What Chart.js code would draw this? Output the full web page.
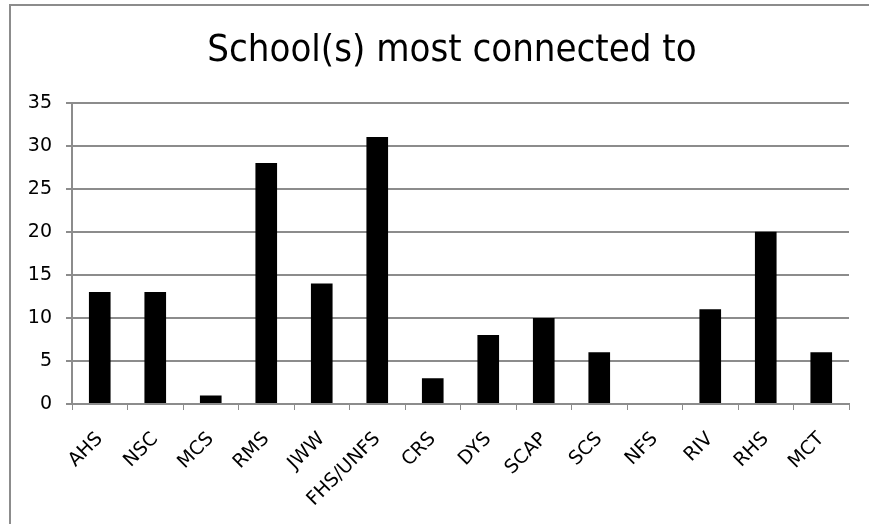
<!DOCTYPE html>
<html>
<head>
<meta charset="utf-8">
<script src="https://cdn.jsdelivr.net/npm/chart.js@4/dist/chart.umd.min.js"></script>
<style>
  body { margin: 0; background: #fff; overflow: hidden; }
  #frame { position: absolute; left: 9px; top: 4px; width: 880px; height: 540px; border: 2px solid #8c8c8c; box-sizing: border-box; }
  #wrap { position: absolute; left: 0; top: 0; width: 869px; height: 524px; }
</style>
</head>
<body>
<div id="frame"></div>
<div id="wrap"><canvas id="school-chart"></canvas></div>
<script>
// Chart data
var schools = ["AHS", "NSC", "MCS", "RMS", "JWW", "FHS/UNFS", "CRS", "DYS", "SCAP", "SCS", "NFS", "RIV", "RHS", "MCT"];
var counts = [13, 13, 1, 28, 14, 31, 3, 8, 10, 6, 0, 11, 20, 6];
var chartTitle = "School(s) most connected to";

// The original centres its title over a chart area wider than the window,
// so move the title box a bit to the right after layout.
var shiftTitle = {
    id: 'shiftTitle',
    afterLayout: function (chart) {
        if (chart.titleBlock) {
            chart.titleBlock.left = 55;
            chart.titleBlock.right = 849;
        }
    }
};

var ctx = document.getElementById("school-chart").getContext("2d");
var myChart = new Chart(ctx, {
    type: 'bar',
    data: {
        labels: schools,
        datasets: [{
            data: counts,
            backgroundColor: '#000',
            borderColor: '#000',
            categoryPercentage: 1,
            barPercentage: 0.39
        }]
    },
    options: {
        responsive: true,
        maintainAspectRatio: false,
        animation: false,
        layout: { padding: { left: 0, right: 20, top: 0, bottom: 0 } },
        plugins: {
            legend: { display: false },
            tooltip: { enabled: false },
            title: {
                display: true,
                text: chartTitle,
                color: '#000',
                font: { family: 'DejaVu Sans Condensed', size: 38, weight: 'normal' },
                padding: { top: 28, bottom: 29 }
            }
        },
        scales: {
            x: {
                grid: { display: true, drawOnChartArea: false, color: '#8c8c8c', tickLength: 6, offset: true },
                border: { color: '#8c8c8c', width: 2 },
                ticks: {
                    color: '#000',
                    font: { family: 'DejaVu Sans', size: 19 },
                    maxRotation: 45, minRotation: 45,
                    autoSkip: false, padding: 18
                },
                afterFit: function (scale) { scale.height = 120; }
            },
            y: {
                min: 0, max: 35,
                ticks: { stepSize: 5, color: '#000', font: { family: 'DejaVu Sans', size: 19 }, padding: 14 },
                grid: { color: '#8c8c8c', lineWidth: 2, tickLength: 6 },
                border: { color: '#8c8c8c', width: 2 },
                afterFit: function (scale) { scale.width = 72; }
            }
        }
    },
    plugins: [shiftTitle]
});
</script>
</body>
</html>
